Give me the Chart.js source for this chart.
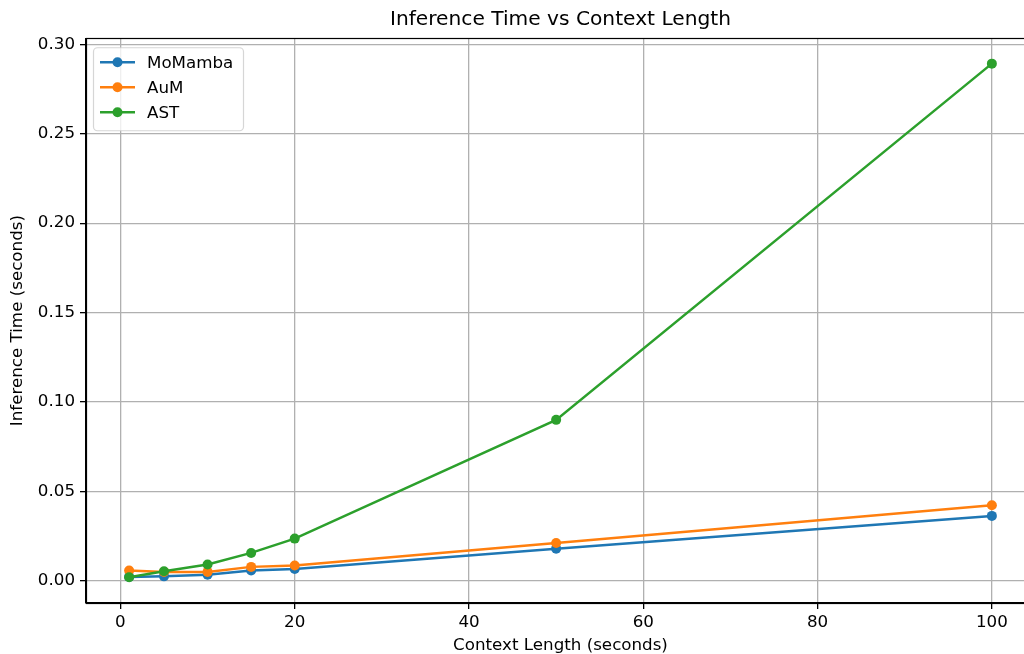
<!DOCTYPE html>
<html>
<head>
<meta charset="utf-8">
<title>Inference Time vs Context Length</title>
<script src="https://cdn.jsdelivr.net/npm/chart.js@4"></script>
<style>
    html, body { margin: 0; padding: 0; overflow: hidden; background: #fff; }
    canvas { display: block; }
</style>
</head>
<body>
<canvas id="timeChart" width="1040" height="654"></canvas>
<script>
// Inference time measurements per context length
const contextLengths = [1, 5, 10, 15, 20, 50, 100];
const moMambaTimes = [0.0022, 0.0025, 0.0034, 0.0058, 0.0066, 0.0180, 0.0363];
const aumTimes = [0.0058, 0.0050, 0.0050, 0.0078, 0.0086, 0.0212, 0.0423];
const astTimes = [0.0020, 0.0054, 0.0091, 0.0156, 0.0236, 0.0900, 0.2892];

const seriesNames = ['MoMamba', 'AuM', 'AST'];
const xTickValues = [0, 20, 40, 60, 80, 100];
const yTickValues = [0, 0.05, 0.10, 0.15, 0.20, 0.25, 0.30];

const COLORS = ['#1f77b4', '#ff7f0e', '#2ca02c'];
const FONT = 'DejaVu Sans';
const TICK_SIZE = 16.7;

function toPoints(values) {
    return contextLengths.map((x, i) => ({ x: x, y: values[i] }));
}

function makeDataset(name, values, idx) {
    return {
        label: name,
        data: toPoints(values),
        borderColor: COLORS[idx],
        backgroundColor: COLORS[idx],
        pointBackgroundColor: COLORS[idx],
        pointBorderWidth: 0,
        pointRadius: 5,
        borderWidth: 2.5,
        tension: 0,
        order: 3 - idx   // later series drawn on top
    };
}

// axes frame (top/right spines too) and a boxed legend with line+marker keys
const framePlugin = {
    id: 'frame',
    afterDraw(chart) {
        const { ctx, chartArea: a } = chart;
        ctx.save();
        ctx.strokeStyle = '#000';
        ctx.lineWidth = 1.2;
        ctx.strokeRect(Math.round(a.left) + 0.5, Math.round(a.top) + 0.5,
            Math.round(a.right - a.left), Math.round(a.bottom - a.top));

        const x0 = a.left + 7, y0 = a.top + 9;
        const w = 150, h = 83;
        ctx.beginPath();
        ctx.roundRect(x0 + 0.5, y0 + 0.5, w, h, 4);
        ctx.fillStyle = 'rgba(255,255,255,0.8)';
        ctx.fill();
        ctx.lineWidth = 1.2;
        ctx.strokeStyle = 'rgba(204,204,204,0.8)';
        ctx.stroke();

        ctx.font = TICK_SIZE + 'px "' + FONT + '"';
        ctx.textBaseline = 'middle';
        chart.data.datasets.forEach((ds, i) => {
            const cy = y0 + 15 + i * 25;
            ctx.strokeStyle = ds.borderColor;
            ctx.lineWidth = 2.5;
            ctx.beginPath();
            ctx.moveTo(x0 + 7, cy);
            ctx.lineTo(x0 + 42, cy);
            ctx.stroke();
            ctx.fillStyle = ds.borderColor;
            ctx.beginPath();
            ctx.arc(x0 + 24.5, cy, 5, 0, Math.PI * 2);
            ctx.fill();
            ctx.fillStyle = '#000';
            ctx.fillText(ds.label, x0 + 54, cy + 1);
        });
        ctx.restore();
    }
};

new Chart(document.getElementById('timeChart'), {
    type: 'line',
    data: {
        datasets: [
            makeDataset(seriesNames[0], moMambaTimes, 0),
            makeDataset(seriesNames[1], aumTimes, 1),
            makeDataset(seriesNames[2], astTimes, 2)
        ]
    },
    options: {
        responsive: false,
        animation: false,
        layout: { padding: { left: 0, right: 1, top: 0, bottom: 0 } },
        plugins: {
            legend: { display: false },
            tooltip: { enabled: false },
            title: {
                display: true,
                text: 'Inference Time vs Context Length',
                fullSize: false,
                color: '#000',
                font: { family: FONT, size: 20.2, weight: 'normal' },
                padding: { top: 8, bottom: 6 }
            }
        },
        scales: {
            x: {
                type: 'linear',
                min: -3.95,
                max: 104.95,
                afterBuildTicks(scale) { scale.ticks = xTickValues.map(v => ({ value: v })); },
                afterFit(scale) { scale.height = 51; },
                grid: { color: '#b0b0b0', lineWidth: 1.3, tickColor: '#000', tickLength: 6 },
                border: { display: true, color: '#000', width: 1.2 },
                ticks: {
                    color: '#000',
                    padding: 4,
                    maxRotation: 0,
                    font: { family: FONT, size: TICK_SIZE },
                    callback: v => String(v)
                },
                title: {
                    display: true,
                    text: 'Context Length (seconds)',
                    color: '#000',
                    font: { family: FONT, size: TICK_SIZE, lineHeight: 1 },
                    padding: { top: 0, bottom: 0 }
                }
            },
            y: {
                type: 'linear',
                min: -0.0124,
                max: 0.3034,
                afterBuildTicks(scale) { scale.ticks = yTickValues.map(v => ({ value: v })); },
                afterFit(scale) { scale.width = 86; },
                grid: { color: '#b0b0b0', lineWidth: 1.3, tickColor: '#000', tickLength: 6 },
                border: { display: true, color: '#000', width: 1.2 },
                ticks: {
                    color: '#000',
                    padding: 5,
                    font: { family: FONT, size: TICK_SIZE },
                    callback: v => v.toFixed(2)
                },
                title: {
                    display: true,
                    text: 'Inference Time (seconds)',
                    color: '#000',
                    font: { family: FONT, size: TICK_SIZE },
                    padding: { top: 8, bottom: 0 }
                }
            }
        }
    },
    plugins: [framePlugin]
});
</script>
</body>
</html>
